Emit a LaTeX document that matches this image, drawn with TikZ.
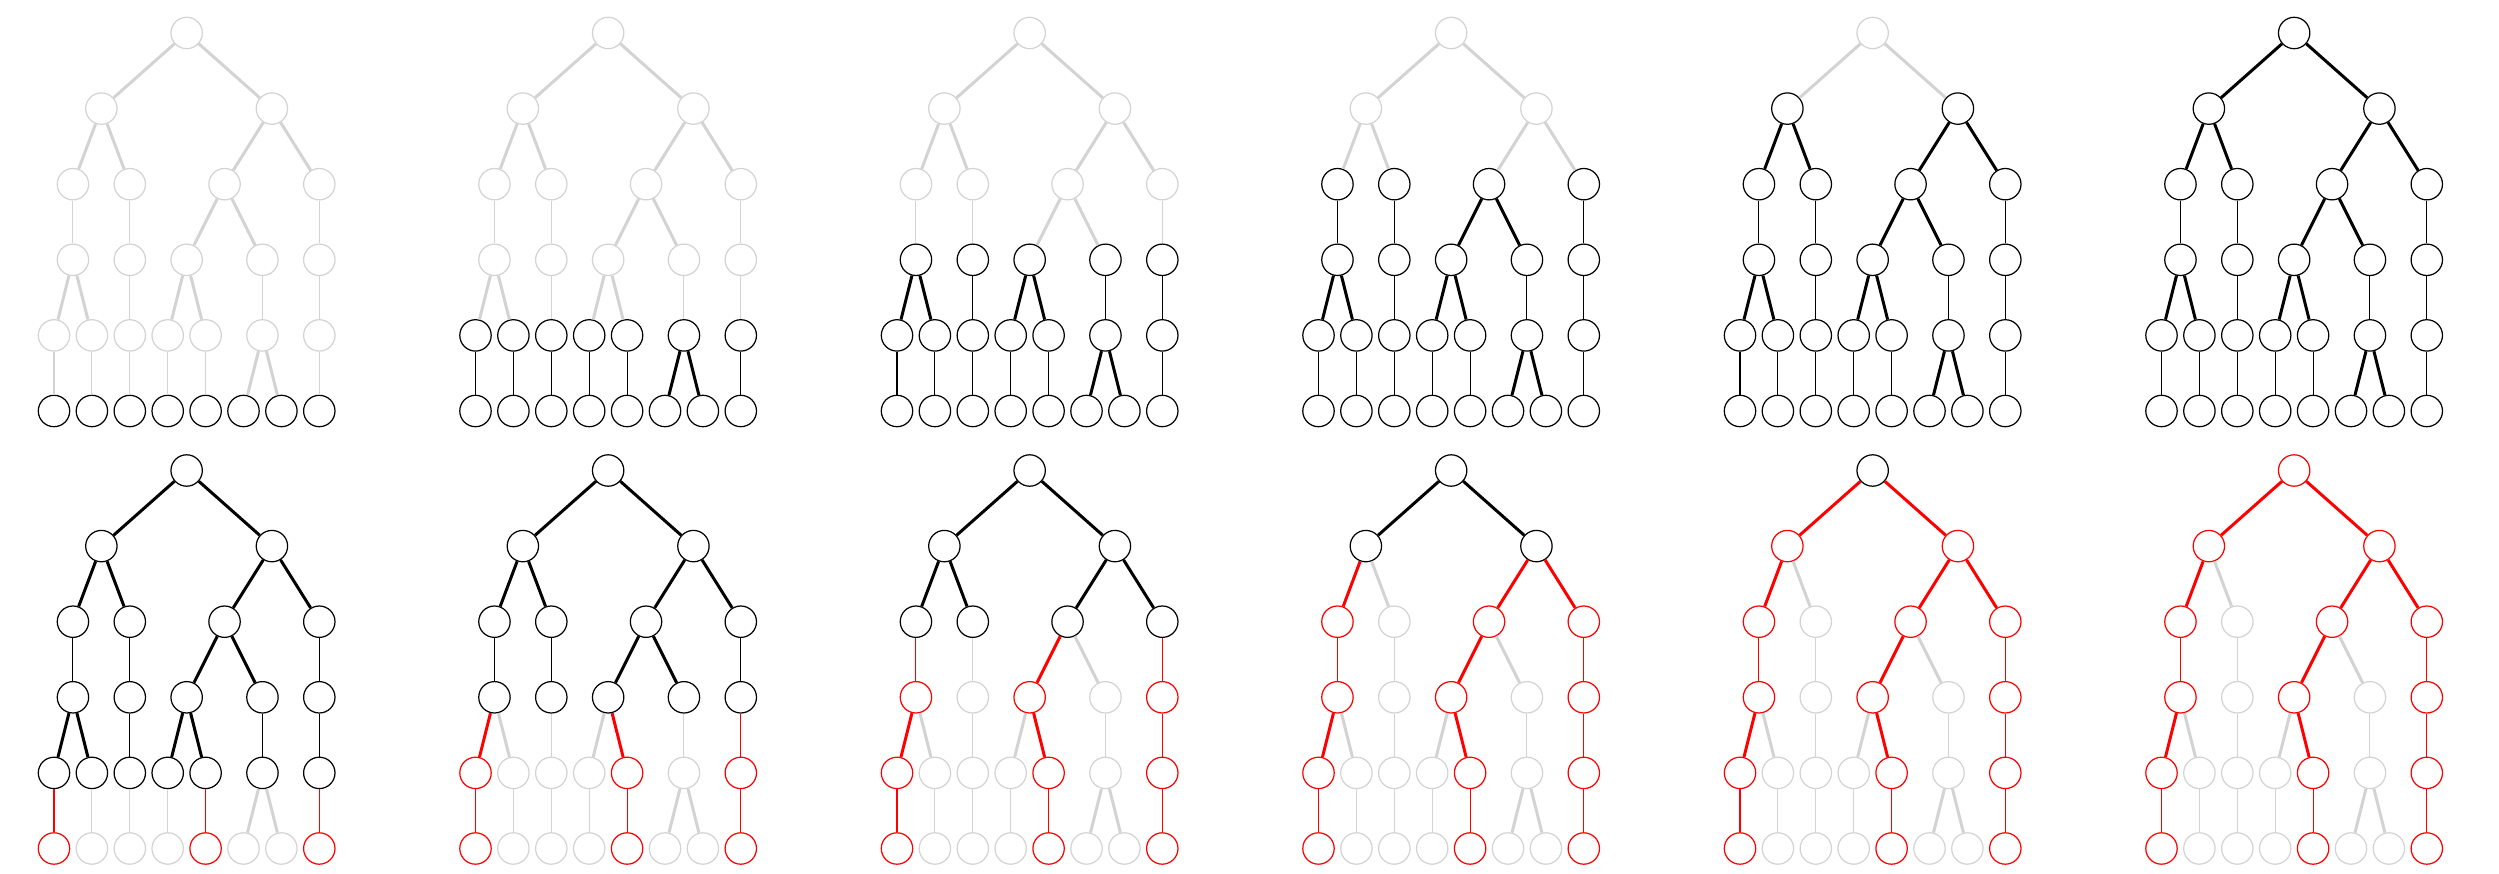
\documentclass[tikz,border=0pt]{standalone}
\usepackage{tikz}
\definecolor{fade}{HTML}{D3D3D3}
\tikzset{vert/.style={circle,draw,minimum size=3.14mm,inner sep=0pt,line width=0.35pt},fat/.style={line width=0.85pt},slim/.style={line width=0.3pt}}
\newcommand{\pickcol}[4]{\ifnum#3<#2\relax\ifnum#1=0 \def\paint{fade}\else\def\paint{black}\fi\else\ifnum#1=0 \def\paint{black}\else\ifnum#4=1 \def\paint{red}\else\def\paint{fade}\fi\fi\fi}
\newcommand{\treepanel}[4]{%
\foreach \nm/\lv/\ps/\rd in {r/0/3.5/1,a/1/1.25/1,b/1/5.75/1,c/2/0.5/1,d/2/2/0,e/2/4.5/1,f/2/7/1,g/3/0.5/1,h/3/2/0,i/3/3.5/1,j/3/5.5/0,k/3/7/1,l/4/0/1,m/4/1/0,n/4/2/0,o/4/3/0,p/4/4/1,q/4/5.5/0,t/4/7/1,u0/5/0/1,u1/5/1/0,u2/5/2/0,u3/5/3/0,u4/5/4/1,u5/5/5/0,u6/5/6/0,u7/5/7/1}{
\pickcol{#2}{#3}{\lv}{\rd}
\node[vert,draw=\paint] (#1-\nm) at (\ps*37.9,\lv*75.6) {};}
\foreach \pa/\ch/\lv/\w/\rd in {r/a/0/1/1,r/b/0/1/1,a/c/1/1/1,a/d/1/1/0,b/e/1/1/1,b/f/1/1/1,c/g/2/0/1,d/h/2/0/0,e/i/2/1/1,e/j/2/1/0,f/k/2/0/1,g/l/3/1/1,g/m/3/1/0,h/n/3/0/0,i/o/3/1/0,i/p/3/1/1,j/q/3/0/0,k/t/3/0/1,l/u0/4/0/1,m/u1/4/0/0,n/u2/4/0/0,o/u3/4/0/0,p/u4/4/0/1,q/u5/4/1/0,q/u6/4/1/0,t/u7/4/0/1}{
\pickcol{#2}{#4}{\lv}{\rd}
\ifnum\w=1 \def\wd{fat}\else\def\wd{slim}\fi
\draw[\wd,draw=\paint] (#1-\pa)--(#1-\ch);}}

\begin{document}
\begin{tikzpicture}[x=0.1mm,y=-0.1mm]
\useasboundingbox (0,0) rectangle (2499,874);
\foreach \k in {1,...,6}{
\pgfmathtruncatemacro\thr{6-\k}\pgfmathtruncatemacro\ethr{5-\k}
\begin{scope}[shift={({54+(\k-1)*421.5},33)}]\treepanel{up\k}{0}{\thr}{\thr}\end{scope}
\begin{scope}[shift={({54+(\k-1)*421.5},470.5)}]\treepanel{dn\k}{1}{\thr}{\ethr}\end{scope}
}
\end{tikzpicture}
\end{document}
